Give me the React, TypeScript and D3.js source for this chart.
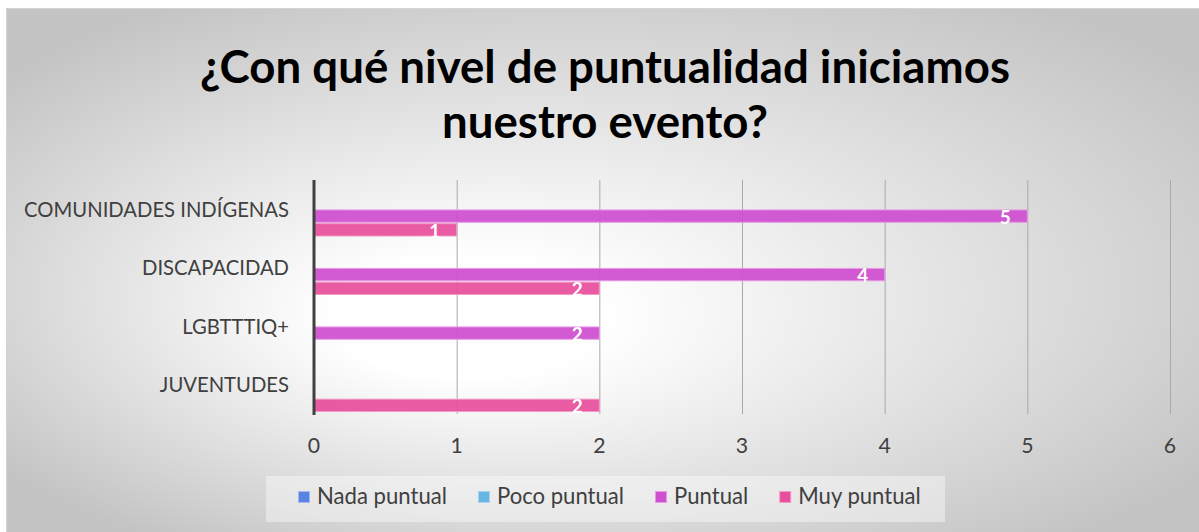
import React, { useEffect, useRef } from "react";
import * as d3 from "d3";

const categories = ["COMUNIDADES INDÍGENAS", "DISCAPACIDAD", "LGBTTTIQ+", "JUVENTUDES"];
const seriesNames = ["Nada puntual", "Poco puntual", "Puntual", "Muy puntual"];
const nadaPuntual = [0, 0, 0, 0];
const pocoPuntual = [0, 0, 0, 0];
const puntual = [5, 4, 2, 0];
const muyPuntual = [1, 2, 0, 2];
const xTicks = [0, 1, 2, 3, 4, 5, 6];
const titleLines = ["¿Con qué nivel de puntualidad iniciamos", "nuestro evento?"];
const seriesColors = ["#5b83e4", "#67b5e2", "#cf4fd1", "#e74f9c"];
const seriesStroke = ["#a3b8ee", "#a8d4ee", "#e59be6", "#f29ac5"];

const W = 1199;
const H = 532;
const FONT = "Lato, 'Open Sans', sans-serif";

export default function App() {
  const ref = useRef<SVGSVGElement | null>(null);

  useEffect(() => {
    const svg = d3.select(ref.current);
    svg.selectAll("*").remove();

    const defs = svg.append("defs");
    const grad = defs
      .append("radialGradient")
      .attr("id", "bg")
      .attr("cx", 0.5)
      .attr("cy", 0.5)
      .attr("r", 0.62)
      .attr("fx", 0.36)
      .attr("fy", 0.6);
    grad.append("stop").attr("offset", 0).attr("stop-color", "#ffffff");
    grad.append("stop").attr("offset", 0.18).attr("stop-color", "#ffffff");
    grad.append("stop").attr("offset", 1).attr("stop-color", "#c4c4c4");

    svg
      .append("rect")
      .attr("x", 6.5)
      .attr("y", 8.5)
      .attr("width", W)
      .attr("height", H)
      .attr("fill", "url(#bg)")
      .attr("stroke", "#d4d4d4")
      .attr("stroke-width", 1);

    const fit = (sel: any, target: number) => {
      const node = sel.node() as SVGTextElement;
      const fs = parseFloat(sel.attr("font-size"));
      const w = node.getComputedTextLength();
      if (w > 0) sel.attr("font-size", (fs * target) / w);
      return parseFloat(sel.attr("font-size"));
    };

    // Title
    const t1 = svg
      .append("text")
      .attr("x", 605)
      .attr("y", 83)
      .attr("text-anchor", "middle")
      .attr("font-family", FONT)
      .attr("font-weight", 700)
      .attr("font-size", 40)
      .attr("fill", "#000")
      .text(titleLines[0]);
    const titleSize = fit(t1, 810);
    svg
      .append("text")
      .attr("x", 605)
      .attr("y", 138)
      .attr("text-anchor", "middle")
      .attr("font-family", FONT)
      .attr("font-weight", 700)
      .attr("font-size", titleSize)
      .attr("fill", "#000")
      .text(titleLines[1]);

    const x = d3.scaleLinear().domain([0, 6]).range([314, 1170]);
    const y = d3.scaleBand<string>().domain(categories).range([180, 414]).padding(0);
    const ys = d3
      .scaleBand<string>()
      .domain(seriesNames)
      .range([2.5, 56])
      .paddingInner(0.1);

    // gridlines
    svg
      .append("g")
      .selectAll("line")
      .data(xTicks.filter((d) => d > 0))
      .join("line")
      .attr("x1", (d) => x(d) + 0.5)
      .attr("x2", (d) => x(d) + 0.5)
      .attr("y1", 180)
      .attr("y2", 414)
      .attr("stroke", "#a9a9a9")
      .attr("stroke-width", 1);

    // bars
    const allSeries = [nadaPuntual, pocoPuntual, puntual, muyPuntual];
    const barData: { cat: string; s: number; v: number }[] = [];
    categories.forEach((c, i) => {
      allSeries.forEach((arr, s) => {
        barData.push({ cat: c, s, v: arr[i] });
      });
    });
    const shown = barData.filter((d) => d.v > 0);
    svg
      .append("g")
      .selectAll("rect")
      .data(shown)
      .join("rect")
      .attr("x", x(0))
      .attr("y", (d) => (y(d.cat) as number) + (ys(seriesNames[d.s]) as number))
      .attr("width", (d) => x(d.v) - x(0))
      .attr("height", ys.bandwidth())
      .attr("fill", (d) => seriesColors[d.s])
      .attr("fill-opacity", 0.93)
      .attr("stroke", (d) => seriesStroke[d.s])
      .attr("stroke-width", 1);

    // axis line
    svg
      .append("line")
      .attr("x1", x(0))
      .attr("x2", x(0))
      .attr("y1", 180)
      .attr("y2", 415)
      .attr("stroke", "#404040")
      .attr("stroke-width", 3);

    // data labels
    svg
      .append("g")
      .selectAll("text")
      .data(shown)
      .join("text")
      .attr("x", (d) => x(d.v) - 22)
      .attr(
        "y",
        (d) => (y(d.cat) as number) + (ys(seriesNames[d.s]) as number) + ys.bandwidth() + 1.5
      )
      .attr("text-anchor", "middle")
      .attr("font-family", FONT)
      .attr("font-weight", 700)
      .attr("font-size", 19)
      .attr("fill", "#ffffff")
      .text((d) => String(d.v));

    // category labels
    const catG = svg.append("g");
    const c0 = catG
      .append("text")
      .attr("x", 289)
      .attr("y", (y(categories[0]) as number) + y.bandwidth() / 2 + 7.5)
      .attr("text-anchor", "end")
      .attr("font-family", FONT)
      .attr("font-size", 18)
      .attr("fill", "#404040")
      .text(categories[0]);
    const labelSize = fit(c0, 265);
    categories.slice(1).forEach((c) => {
      catG
        .append("text")
        .attr("x", 289)
        .attr("y", (y(c) as number) + y.bandwidth() / 2 + 7.5)
        .attr("text-anchor", "end")
        .attr("font-family", FONT)
        .attr("font-size", labelSize)
        .attr("fill", "#404040")
        .text(c);
    });

    // tick labels
    svg
      .append("g")
      .selectAll("text")
      .data(xTicks)
      .join("text")
      .attr("x", (d) => x(d))
      .attr("y", 452.5)
      .attr("text-anchor", "middle")
      .attr("font-family", FONT)
      .attr("font-size", labelSize + 1)
      .attr("fill", "#404040")
      .text((d) => String(d));

    // legend
    svg
      .append("rect")
      .attr("x", 266)
      .attr("y", 476)
      .attr("width", 679)
      .attr("height", 46)
      .attr("fill", "#ffffff")
      .attr("fill-opacity", 0.4);
    const lg = svg.append("g");
    // measure legend font size from first entry
    const probe = lg
      .append("text")
      .attr("font-family", FONT)
      .attr("font-size", 18)
      .text(seriesNames[0]);
    const legendSize = fit(probe, 130);
    probe.remove();
    let lx = 298;
    seriesNames.forEach((name, i) => {
      lg.append("rect")
        .attr("x", lx + 0.5)
        .attr("y", 491.5)
        .attr("width", 11)
        .attr("height", 11)
        .attr("fill", seriesColors[i])
        .attr("stroke", seriesStroke[i])
        .attr("stroke-width", 1);
      const t = lg
        .append("text")
        .attr("x", lx + 19)
        .attr("y", 504)
        .attr("font-family", FONT)
        .attr("font-size", legendSize)
        .attr("fill", "#404040")
        .text(name);
      const w = (t.node() as SVGTextElement).getComputedTextLength();
      lx = lx + 19 + w + 31;
    });
  }, []);

  return (
    <svg
      ref={ref}
      width={W}
      height={H}
      style={{ position: "absolute", left: 0, top: 0, display: "block" }}
    />
  );
}
